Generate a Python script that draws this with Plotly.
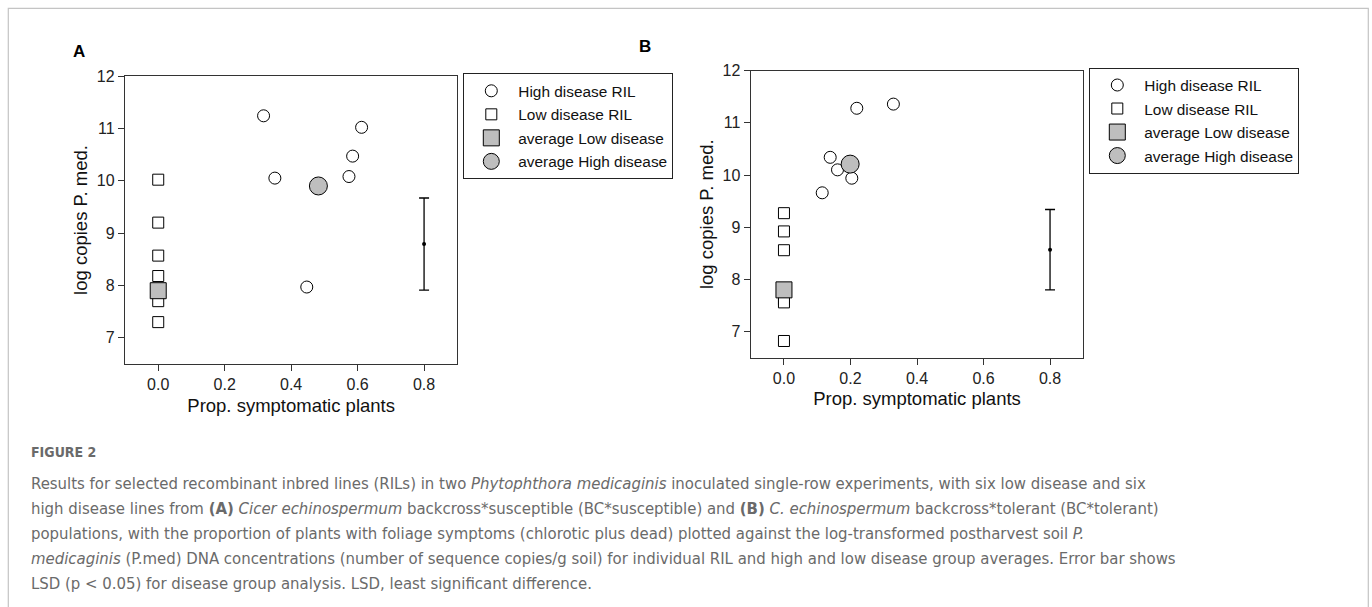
import plotly.graph_objects as go

W, H = 1372, 607

# ---------------- data ----------------
tick_x = [0.0, 0.2, 0.4, 0.6, 0.8]
tick_x_text = ["0.0", "0.2", "0.4", "0.6", "0.8"]
tick_y = [7, 8, 9, 10, 11, 12]

a_high_x = [0.317, 0.351, 0.612, 0.585, 0.574, 0.447]
a_high_y = [11.24, 10.05, 11.02, 10.47, 10.08, 7.97]
a_low_x = [0.0, 0.0, 0.0, 0.0, 0.0, 0.0]
a_low_y = [10.02, 9.20, 8.57, 8.18, 7.70, 7.30]
a_avg_low_x, a_avg_low_y = [0.0], [7.90]
a_avg_high_x, a_avg_high_y = [0.482], [9.90]
a_lsd_x, a_lsd_y, a_lsd_err = [0.8], [8.79], [0.88]

b_high_x = [0.219, 0.329, 0.139, 0.161, 0.204, 0.115]
b_high_y = [11.28, 11.36, 10.34, 10.10, 9.94, 9.66]
b_low_x = [0.0, 0.0, 0.0, 0.0, 0.0, 0.0]
b_low_y = [9.27, 8.92, 8.56, 7.62, 7.56, 6.82]
b_avg_low_x, b_avg_low_y = [0.0], [7.80]
b_avg_high_x, b_avg_high_y = [0.199], [10.21]
b_lsd_x, b_lsd_y, b_lsd_err = [0.8], [8.57], [0.77]

legend_names = ["High disease RIL", "Low disease RIL", "average Low disease", "average High disease"]

caption_title = "FIGURE 2"
caption_lines = [
    "Results for selected recombinant inbred lines (RILs) in two <i>Phytophthora medicaginis</i> inoculated single-row experiments, with six low disease and six",
    "high disease lines from <b>(A)</b> <i>Cicer echinospermum</i> backcross*susceptible (BC*susceptible) and <b>(B)</b> <i>C. echinospermum</i> backcross*tolerant (BC*tolerant)",
    "populations, with the proportion of plants with foliage symptoms (chlorotic plus dead) plotted against the log-transformed postharvest soil <i>P.</i>",
    "<i>medicaginis</i> (P.med) DNA concentrations (number of sequence copies/g soil) for individual RIL and high and low disease group averages. Error bar shows",
    "LSD (p &lt; 0.05) for disease group analysis. LSD, least significant difference.",
]

# ---------------- styles ----------------
FONT = "Liberation Sans, Arial, sans-serif"
CAP_FONT = "DejaVu Sans Condensed, Liberation Sans Narrow, sans-serif"
GRAY = "#bebebe"
AX = "#333333"


def px_x(p):
    return p / W


def px_y(p):
    return 1 - p / H


fig = go.Figure()


def add_panel(xa, ya, legend, hx, hy, lx, ly, alx, aly, ahx, ahy, ex, ey, ee):
    common = dict(xaxis=xa, yaxis=ya, legend=legend, mode="markers")
    fig.add_trace(go.Scatter(x=hx, y=hy, name=legend_names[0], legendgroup=legend + "g1",
                             marker=dict(symbol="circle", size=12, color="white",
                                         line=dict(color="black", width=1)), **common))
    fig.add_trace(go.Scatter(x=lx, y=ly, name=legend_names[1], legendgroup=legend + "g2",
                             marker=dict(symbol="square", size=11, color="white",
                                         line=dict(color="black", width=1)), **common))
    fig.add_trace(go.Scatter(x=alx, y=aly, name=legend_names[2], legendgroup=legend + "g3",
                             marker=dict(symbol="square", size=16, color=GRAY,
                                         line=dict(color="black", width=1)), **common))
    fig.add_trace(go.Scatter(x=ahx, y=ahy, name=legend_names[3], legendgroup=legend + "g4",
                             marker=dict(symbol="circle", size=18, color=GRAY,
                                         line=dict(color="black", width=1)), **common))
    fig.add_trace(go.Scatter(x=ex, y=ey, xaxis=xa, yaxis=ya, mode="markers", showlegend=False,
                             marker=dict(size=4, color="black"),
                             error_y=dict(type="data", array=ee, symmetric=True,
                                          color="black", thickness=1.3, width=5)))


add_panel("x", "y", "legend", a_high_x, a_high_y, a_low_x, a_low_y,
          a_avg_low_x, a_avg_low_y, a_avg_high_x, a_avg_high_y, a_lsd_x, a_lsd_y, a_lsd_err)
add_panel("x2", "y2", "legend2", b_high_x, b_high_y, b_low_x, b_low_y,
          b_avg_low_x, b_avg_low_y, b_avg_high_x, b_avg_high_y, b_lsd_x, b_lsd_y, b_lsd_err)


def xaxis(domain, anchor):
    return dict(domain=domain, anchor=anchor, range=[-0.1, 0.9], tickvals=tick_x, ticktext=tick_x_text,
                ticks="outside", ticklen=6, tickwidth=1.2, tickcolor=AX,
                showline=True, linecolor=AX, linewidth=1.3, mirror=True,
                showgrid=False, zeroline=False, automargin=False,
                tickfont=dict(family=FONT, size=16, color="#222"),
                title=dict(text="Prop. symptomatic plants", standoff=6,
                           font=dict(family=FONT, size=18.5, color="#111")))


def yaxis(domain, anchor):
    return dict(domain=domain, anchor=anchor, range=[6.5, 12], tickvals=tick_y,
                ticks="outside", ticklen=6, tickwidth=1.2, tickcolor=AX,
                showline=True, linecolor=AX, linewidth=1.3, mirror=True,
                showgrid=False, zeroline=False, automargin=False,
                tickfont=dict(family=FONT, size=16, color="#222"),
                title=dict(text="log copies P. med.", standoff=4,
                           font=dict(family=FONT, size=18.5, color="#111")))


def legend_cfg(left, top):
    return dict(x=px_x(left), y=px_y(top), xanchor="left", yanchor="top",
                bordercolor="#222", borderwidth=1, bgcolor="white",
                font=dict(family=FONT, size=15.4, color="#111"),
                traceorder="grouped", tracegroupgap=0.5, itemsizing="trace", itemwidth=44,
                entrywidth=157, entrywidthmode="pixels")


annotations = [
    dict(text="<b>A</b>", x=px_x(79), y=px_y(52), xref="paper", yref="paper", showarrow=False,
         xanchor="center", yanchor="middle", font=dict(family=FONT, size=17, color="black")),
    dict(text="<b>B</b>", x=px_x(645), y=px_y(46), xref="paper", yref="paper", showarrow=False,
         xanchor="center", yanchor="middle", font=dict(family=FONT, size=17, color="black")),
    dict(text="<b>" + caption_title + "</b>", x=px_x(29), y=px_y(452), xref="paper", yref="paper",
         showarrow=False, xanchor="left", yanchor="middle",
         font=dict(family=CAP_FONT, size=14, color="#6a6a6a")),
]
for i, line in enumerate(caption_lines):
    annotations.append(dict(text=line, x=px_x(29), y=px_y(483.5 + 24.9 * i), xref="paper", yref="paper",
                            showarrow=False, xanchor="left", yanchor="middle", align="left",
                            font=dict(family=CAP_FONT, size=16.6, color="#6a6a6a")))

fig.update_layout(
    width=W, height=H, margin=dict(l=0, r=0, t=0, b=0, pad=0, autoexpand=False),
    paper_bgcolor="white", plot_bgcolor="white",
    xaxis=xaxis([px_x(125), px_x(457.3)], "y"),
    yaxis=yaxis([px_y(364), px_y(76)], "x"),
    xaxis2=xaxis([px_x(750.7), px_x(1083.3)], "y2"),
    yaxis2=yaxis([px_y(357.7), px_y(70.7)], "x2"),
    legend=legend_cfg(463.3, 73.3),
    legend2=legend_cfg(1089.3, 67.5),
    annotations=annotations,
    shapes=[dict(type="rect", xref="paper", yref="paper", x0=px_x(8.3), x1=px_x(1368.3),
                 y0=px_y(640), y1=px_y(8.3), line=dict(color="#c4c4c4", width=1.2),
                 fillcolor="rgba(0,0,0,0)", layer="below")],
    showlegend=True,
)

fig.write_html("out.html")
